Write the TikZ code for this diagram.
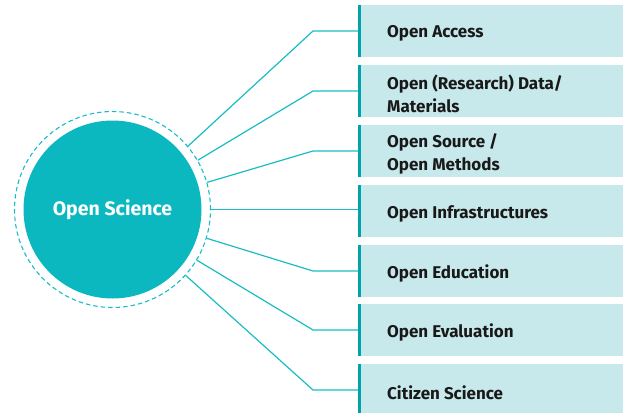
\documentclass[tikz,border=0pt]{standalone}
\usepackage{fontspec}
\setmainfont{Fira Sans}
\definecolor{osfill}{RGB}{11,184,192}
\definecolor{osline}{RGB}{24,189,196}
\definecolor{osbar}{RGB}{0,163,170}
\definecolor{osbox}{RGB}{200,233,235}
\begin{document}
\begin{tikzpicture}[x=1pt,y=-1pt,
  hub/.style={circle,fill=osfill,minimum size=178pt,inner sep=0pt,text=white,font=\bfseries\fontsize{19.5}{22}\selectfont},
  ring/.style={circle,draw=osline,dash pattern=on 4.5pt off 3pt,line width=1.1pt,minimum size=196pt,inner sep=0pt},
  item/.style={anchor=west,fill=osbox,minimum height=52pt,minimum width=265pt,inner sep=0pt},
  itemtext/.style={anchor=west,align=left,inner sep=0pt,font=\bfseries\fontsize{17}{23}\selectfont,text=black!90},
  link/.style={draw=osline,line width=1.2pt},
  bar/.style={draw=osbar,line width=3pt}]
\useasboundingbox (0,0) rectangle (623,412);
\node[ring] (dash) at (112.5,209.5) {};
\node[hub] (os) at (112.5,209.5) {Open Science};
% boxes
\node[item] (b1) at (358,31) {};
\node[item] (b2) at (358,91) {};
\node[item] (b3) at (358,151) {};
\node[item] (b4) at (358,211) {};
\node[item] (b5) at (358,271) {};
\node[item] (b6) at (358,330) {};
\node[item] (b7) at (358,390) {};
\node[itemtext] (t1) at ([xshift=29pt,yshift=-2.5pt]b1.west) {Open Access};
\node[itemtext] (t2) at ([xshift=29pt,yshift=-2.5pt]b2.west) {Open (Research) Data/\\Materials};
\node[itemtext] (t3) at ([xshift=29pt,yshift=-2.5pt]b3.west) {Open Source /\\Open Methods};
\node[itemtext] (t4) at ([xshift=29pt,yshift=-2.5pt]b4.west) {Open Infrastructures};
\node[itemtext] (t5) at ([xshift=29pt,yshift=-2.5pt]b5.west) {Open Education};
\node[itemtext] (t6) at ([xshift=29pt,yshift=-2.5pt]b6.west) {Open Evaluation};
\node[itemtext] (t7) at ([xshift=29pt,yshift=-2.5pt]b7.west) {Citizen Science};
\draw[bar] ([xshift=1.5pt]b1.north west) -- ([xshift=1.5pt]b1.south west);
\draw[bar] ([xshift=1.5pt]b2.north west) -- ([xshift=1.5pt]b2.south west);
\draw[bar] ([xshift=1.5pt]b3.north west) -- ([xshift=1.5pt]b3.south west);
\draw[bar] ([xshift=1.5pt]b4.north west) -- ([xshift=1.5pt]b4.south west);
\draw[bar] ([xshift=1.5pt]b5.north west) -- ([xshift=1.5pt]b5.south west);
\draw[bar] ([xshift=1.5pt]b6.north west) -- ([xshift=1.5pt]b6.south west);
\draw[bar] ([xshift=1.5pt]b7.north west) -- ([xshift=1.5pt]b7.south west);
% connectors
\draw[link] (dash.40) -- ([xshift=-45pt]b1.west) -- (b1.west);
\draw[link] (dash.30) -- ([xshift=-45pt]b2.west) -- (b2.west);
\draw[link] (dash.16.5) -- ([xshift=-45pt]b3.west) -- (b3.west);
\draw[link] (dash.0) -- (dash.0 -| b4.west);
\draw[link] (dash.-17.5) -- ([xshift=-45pt]b5.west) -- (b5.west);
\draw[link] (dash.-31.5) -- ([xshift=-45pt]b6.west) -- (b6.west);
\draw[link] (dash.-42) -- ([xshift=-45pt]b7.west) -- (b7.west);
\end{tikzpicture}
\end{document}
